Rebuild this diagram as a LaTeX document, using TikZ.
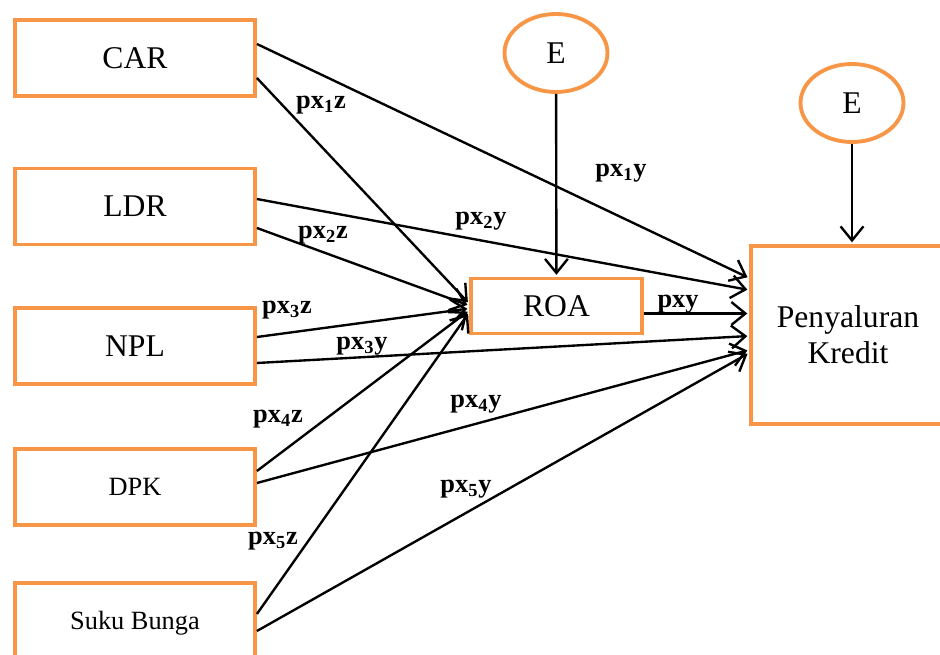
\documentclass[tikz,border=0pt]{standalone}
\usepackage{fontspec}
\setmainfont{Liberation Serif}
\usetikzlibrary{arrows.meta,shapes.geometric}
\definecolor{boxorange}{RGB}{247,150,70}

\begin{document}
\begin{tikzpicture}[x=0.02cm,y=-0.02cm,
    var/.style={draw=boxorange,line width=2.2pt,minimum width=4.8cm,minimum height=1.52cm,inner sep=0pt,font=\fontsize{18}{20.5}\selectfont},
    err/.style={draw=boxorange,line width=2.2pt,ellipse,minimum width=2.06cm,minimum height=1.56cm,inner sep=0pt,font=\fontsize{18}{20.5}\selectfont},
    lbl/.style={inner sep=0pt,font=\fontsize{15}{18}\selectfont\bfseries},
    arr/.style={->,line width=1.35pt,shorten >=1pt},
    >={Straight Barb[length=8pt,width=13pt]}]
     \useasboundingbox (0,0) rectangle (940,655);
     \node[var] (car)  at (135,58)  {CAR};
     \node[var] (ldr)  at (135,206.5) {LDR};
     \node[var] (npl)  at (135,346) {NPL};
     \node[var,font=\fontsize{15}{18}\selectfont] (dpk)  at (135,487) {DPK};
     \node[var,minimum height=1.6cm,font=\fontsize{15}{18}\selectfont] (suku) at (135,623) {Suku Bunga};
     \node[var,minimum width=3.42cm,minimum height=1.1cm] (roa) at (556.5,306) {ROA};
     \node[var,minimum width=3.88cm,minimum height=3.56cm,align=center] (pk) at (848,335) {Penyaluran\\Kredit};
     \node[err] (e1) at (556,53)  {E};
     \node[err] (e2) at (852,103) {E};

     \draw[arr] (e1) -- (roa);
     \draw[arr] (e2.south) -- (e2.south |- pk.north);
     \draw[arr] ([yshift=-0.40cm]car.east) -- ([yshift=0.05cm]roa.west);
     \draw[arr] ([yshift=-0.43cm]ldr.east) -- ([yshift=0.01cm]roa.west);
     \draw[arr] ([yshift=0.18cm]npl.east)  -- ([yshift=-0.05cm]roa.west);
     \draw[arr] ([yshift=0.32cm]dpk.east)  -- ([yshift=-0.09cm]roa.west);
     \draw[arr] ([yshift=0.18cm]suku.east) -- ([yshift=-0.13cm]roa.west);
     \draw[arr] ([yshift=0.28cm]car.east)  -- ([yshift=1.14cm]pk.west);
     \draw[arr] ([yshift=0.15cm]ldr.east)  -- ([yshift=0.90cm]pk.west);
     \draw[arr] ([yshift=-0.15cm]roa.east) -- ([yshift=-0.15cm]roa.east -| pk.west);
     \draw[arr] ([yshift=-0.34cm]npl.east) -- ([yshift=-0.02cm]pk.west);
     \draw[arr] ([yshift=0.08cm]dpk.east)  -- ([yshift=-0.30cm]pk.west);
     \draw[arr] ([yshift=-0.16cm]suku.east) -- ([yshift=-0.36cm]pk.west);

     \node[lbl] (l1z) at (321,105) {px\textsubscript{1}z};
     \node[lbl] (l2z) at (323,235) {px\textsubscript{2}z};
     \node[lbl] (l3z) at (287,310) {px\textsubscript{3}z};
     \node[lbl] (l4z) at (278,419) {px\textsubscript{4}z};
     \node[lbl] (l5z) at (273,541) {px\textsubscript{5}z};
     \node[lbl] (l1y) at (621,173) {px\textsubscript{1}y};
     \node[lbl] (l2y) at (481,221) {px\textsubscript{2}y};
     \node[lbl] (l3y) at (362,346) {px\textsubscript{3}y};
     \node[lbl] (l4y) at (476,404) {px\textsubscript{4}y};
     \node[lbl] (l5y) at (466,489) {px\textsubscript{5}y};
     \node[lbl] (lxy) at (678,304) {pxy};
    \end{tikzpicture}
\end{document}
